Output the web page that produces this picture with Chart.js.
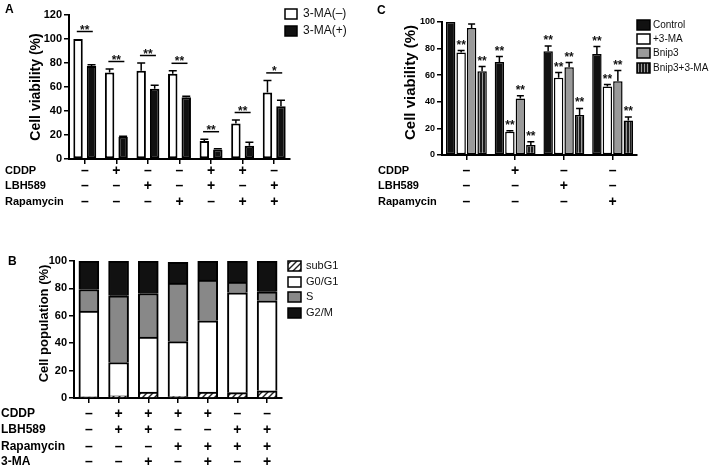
<!DOCTYPE html>
<html>
<head>
<meta charset="utf-8">
<script src="https://cdn.jsdelivr.net/npm/chart.js@4.4.1/dist/chart.umd.min.js"></script>
<style>
  html, body { margin: 0; padding: 0; background: #fff; }
  #wrap { position: relative; width: 709px; height: 468px; overflow: hidden; }
  canvas { position: absolute; }
</style>
</head>
<body>
<div id="wrap">
  <canvas id="chartA" width="372" height="235" style="left:0px;top:0px"></canvas>
  <canvas id="chartC" width="337" height="235" style="left:372px;top:0px"></canvas>
  <canvas id="chartB" width="390" height="228" style="left:0px;top:240px"></canvas>
</div>
<script>
// ---- Panel A: cell viability, 3-MA(-) vs 3-MA(+)
const condA = ['ctrl', 'CDDP', 'LBH589', 'Rapa', 'CDDP+LBH', 'CDDP+Rapa', 'LBH+Rapa'];
const minusMA = [100, 72, 73.5, 71, 15, 29.5, 55.5];
const minusMAErr = [0, 3, 6.5, 2.5, 1.5, 3, 10];
const plusMA = [77.5, 18.5, 58.5, 51.5, 8, 11, 44];
const plusMAErr = [1, 0.5, 3, 0.8, 0.5, 3, 5];
const sigA = ['**', '**', '**', '**', '**', '**', '*'];
const cddpA = ['–', '+', '–', '–', '+', '+', '–'];
const lbhA = ['–', '–', '+', '–', '+', '–', '+'];
const rapaA = ['–', '–', '–', '+', '–', '+', '+'];
const yTicksA = [0, 20, 40, 60, 80, 100, 120];

// ---- Panel C: cell viability, Bnip3 / 3-MA
const condC = ['ctrl', 'CDDP', 'LBH589', 'Rapa'];
const ctrlC = [100, 70, 78, 76];
const ctrlCErr = [0, 4, 4, 5.5];
const maC = [77, 17.5, 58, 51.5];
const maCErr = [1.5, 0.8, 4, 1.5];
const bnipC = [95.5, 42.5, 66, 55.5];
const bnipCErr = [3, 2, 3.5, 8];
const bnipMaC = [63, 7.5, 30, 26];
const bnipMaCErr = [3.5, 2.5, 5, 2.5];
const ctrlCSig = ['', '**', '**', '**'];
const maCSig = ['**', '**', '**', '**'];
const bnipCSig = ['', '**', '**', '**'];
const bnipMaCSig = ['**', '**', '**', '**'];
const cddpC = ['–', '+', '–', '–'];
const lbhC = ['–', '–', '+', '–'];
const rapaC = ['–', '–', '–', '+'];
const yTicksC = [0, 20, 40, 60, 80, 100];

// ---- Panel B: cell cycle distribution (stacked %)
const condB = ['ctrl', 'C+L', 'C+L+M', 'C+R', 'C+R+M', 'L+R', 'L+R+M'];
const subG1 = [0.8, 1.5, 4.4, 1, 4.4, 3.9, 5.3];
const g0g1 = [62.6, 24.4, 40.1, 40.2, 52, 72.9, 65.7];
const sPhase = [15.8, 48.7, 31.8, 42.6, 29.6, 7.9, 6.5];
const g2m = [20.8, 25.4, 23.7, 15.2, 14, 15.3, 22.5];
const cddpB = ['–', '+', '+', '+', '+', '–', '–'];
const lbhB = ['–', '+', '+', '–', '–', '+', '+'];
const rapaB = ['–', '–', '–', '+', '+', '+', '+'];
const maB = ['–', '–', '+', '–', '+', '–', '+'];
const yTicksB = [0, 20, 40, 60, 80, 100];

const FONT = '"Liberation Sans", Arial, Helvetica, sans-serif';

function hatchPattern() {
  const c = document.createElement('canvas');
  c.width = 6; c.height = 6;
  const g = c.getContext('2d');
  g.fillStyle = '#fff'; g.fillRect(0, 0, 6, 6);
  g.strokeStyle = '#222'; g.lineWidth = 1.4;
  g.beginPath();
  g.moveTo(0, 6); g.lineTo(6, 0);
  g.moveTo(-3, 3); g.lineTo(3, -3);
  g.moveTo(3, 9); g.lineTo(9, 3);
  g.stroke();
  return g.createPattern(c, 'repeat');
}

function stripePattern() {
  const c = document.createElement('canvas');
  c.width = 3; c.height = 3;
  const g = c.getContext('2d');
  g.fillStyle = '#1c1c1c'; g.fillRect(0, 0, 3, 3);
  g.fillStyle = '#9a9a9a'; g.fillRect(2, 0, 1, 3);
  return g.createPattern(c, 'repeat');
}

// fixed-size axes so the plot area lands where the figure has it
function axes(yW, xH, yTicks, yMax, tickSize) {
  return {
    x: {
      afterFit: s => { s.height = xH; },
      grid: { drawOnChartArea: false, drawTicks: true, tickLength: 5, offset: false, color: '#000', lineWidth: 1.5 },
      border: { color: '#000', width: 2 },
      ticks: { display: false }
    },
    y: {
      min: 0, max: yMax,
      afterFit: s => { s.width = yW; },
      afterBuildTicks: s => { s.ticks = yTicks.map(v => ({ value: v })); },
      grid: { drawOnChartArea: false, drawTicks: true, tickLength: 5, color: '#000', lineWidth: 1.5 },
      border: { color: '#000', width: 2 },
      ticks: { color: '#000', padding: 2, font: { family: FONT, size: tickSize, weight: 'bold' } }
    }
  };
}

function txt(ctx, s, x, y, font, align, base) {
  ctx.font = font;
  ctx.textAlign = align || 'left';
  ctx.textBaseline = base || 'alphabetic';
  ctx.fillText(s, x, y);
}

const figPlugin = {
  id: 'fig',
  afterDatasetsDraw(chart, args, o) {
    const ctx = chart.ctx, ys = chart.scales.y;
    ctx.save();
    ctx.strokeStyle = '#000';
    ctx.fillStyle = '#111';
    ctx.lineWidth = 1.5;
    chart.data.datasets.forEach((ds, di) => {
      const meta = chart.getDatasetMeta(di);
      meta.data.forEach((bar, i) => {
        const e = ds.errors ? ds.errors[i] : 0;
        const top = ys.getPixelForValue(ds.data[i] + e);
        if (e) {
          ctx.beginPath();
          ctx.moveTo(bar.x, bar.y);
          ctx.lineTo(bar.x, top);
          ctx.moveTo(bar.x - o.cap, top);
          ctx.lineTo(bar.x + o.cap, top);
          ctx.stroke();
        }
        if (ds.stars && ds.stars[i]) {
          txt(ctx, ds.stars[i], bar.x, top - 2, 'bold 12px ' + FONT, 'center');
        }
      });
    });
    // paired significance (panel A)
    if (o.pairs) {
      const m0 = chart.getDatasetMeta(0).data, m1 = chart.getDatasetMeta(1).data;
      const d = chart.data.datasets;
      o.pairs.forEach((s, i) => {
        const t0 = ys.getPixelForValue(d[0].data[i] + d[0].errors[i]);
        const t1 = ys.getPixelForValue(d[1].data[i] + d[1].errors[i]);
        const ly = Math.min(t0, t1) - 7.5;
        const cx = (m0[i].x + m1[i].x) / 2;
        ctx.beginPath();
        ctx.moveTo(cx - 8, ly);
        ctx.lineTo(cx + 8, ly);
        ctx.stroke();
        txt(ctx, s, cx, ly + 2, 'bold 12px ' + FONT, 'center');
      });
    }
    ctx.restore();
  },
  afterDraw(chart, args, o) {
    const ctx = chart.ctx, xs = chart.scales.x, ca = chart.chartArea;
    ctx.save();
    ctx.fillStyle = '#000';
    // panel letter
    txt(ctx, o.letter.text, o.letter.x, o.letter.y, 'bold 12px ' + FONT);
    // y axis title
    ctx.save();
    ctx.translate(o.yTitle.x, (ca.top + ca.bottom) / 2 + (o.yTitle.dy || 0));
    ctx.rotate(-Math.PI / 2);
    txt(ctx, o.yTitle.text, 0, 0, 'bold ' + o.yTitle.size + 'px ' + FONT, 'center', 'middle');
    ctx.restore();
    // treatment table
    const r = o.rows;
    r.labels.forEach((lab, k) => {
      txt(ctx, lab, r.labelX, r.ys[k], 'bold ' + r.labelSize + 'px ' + FONT, 'left', 'middle');
      r.signs[k].forEach((s, i) => {
        txt(ctx, s, xs.getPixelForValue(i), r.ys[k], 'bold ' + r.signSize + 'px ' + FONT, 'center', 'middle');
      });
    });
    // legend
    const L = o.legend;
    chart.data.datasets.forEach((d, i) => {
      const y = L.ys[i];
      ctx.fillStyle = d.backgroundColor;
      ctx.fillRect(L.x, y - L.box[1] / 2, L.box[0], L.box[1]);
      ctx.strokeStyle = '#000';
      ctx.lineWidth = 1.5;
      ctx.strokeRect(L.x, y - L.box[1] / 2, L.box[0], L.box[1]);
      ctx.fillStyle = '#111';
      txt(ctx, d.label, L.textX, y, L.size + 'px ' + FONT, 'left', 'middle');
    });
    ctx.restore();
  }
};

const base = {
  responsive: false,
  animation: false,
  devicePixelRatio: 1,
  events: []
};

// Panel A
new Chart(document.getElementById('chartA'), {
  type: 'bar',
  data: {
    labels: condA,
    datasets: [
      { label: '3-MA(–)', data: minusMA, errors: minusMAErr, backgroundColor: '#fff' },
      { label: '3-MA(+)', data: plusMA, errors: plusMAErr, backgroundColor: '#111' }
    ]
  },
  options: Object.assign({}, base, {
    layout: { padding: { left: 0, top: 15, right: 82, bottom: 0 } },
    datasets: { bar: { borderColor: '#000', borderWidth: 2, borderSkipped: false, categoryPercentage: 0.855, barPercentage: 0.7 } },
    scales: axes(69, 76, yTicksA, 120, 11),
    plugins: {
      legend: { display: false },
      tooltip: { enabled: false },
      fig: {
        cap: 4,
        pairs: sigA,
        letter: { text: 'A', x: 5, y: 13 },
        yTitle: { text: 'Cell viability (%)', x: 36, size: 14 },
        rows: { labelX: 5, ys: [171, 186, 202], labels: ['CDDP', 'LBH589', 'Rapamycin'], signs: [cddpA, lbhA, rapaA], labelSize: 11, signSize: 14 },
        legend: { x: 285, ys: [14, 31], box: [12, 10], textX: 303, size: 12 }
      }
    }
  }),
  plugins: [figPlugin]
});

// Panel C
const stripes = stripePattern();
new Chart(document.getElementById('chartC'), {
  type: 'bar',
  data: {
    labels: condC,
    datasets: [
      { label: 'Control', data: ctrlC, errors: ctrlCErr, stars: ctrlCSig, backgroundColor: '#111' },
      { label: '+3-MA', data: maC, errors: maCErr, stars: maCSig, backgroundColor: '#fff' },
      { label: 'Bnip3', data: bnipC, errors: bnipCErr, stars: bnipCSig, backgroundColor: '#9a9a9a' },
      { label: 'Bnip3+3-MA', data: bnipMaC, errors: bnipMaCErr, stars: bnipMaCSig, backgroundColor: stripes }
    ]
  },
  options: Object.assign({}, base, {
    layout: { padding: { left: 0, top: 22, right: 72, bottom: 0 } },
    datasets: { bar: { borderColor: '#000', borderWidth: 1.5, borderSkipped: false, categoryPercentage: 0.86, barPercentage: 0.9 } },
    scales: axes(70, 80, yTicksC, 100, 9),
    plugins: {
      legend: { display: false },
      tooltip: { enabled: false },
      fig: {
        cap: 3.5,
        letter: { text: 'C', x: 5, y: 14 },
        yTitle: { text: 'Cell viability (%)', x: 39, size: 15, dy: -6 },
        rows: { labelX: 6, ys: [171, 186, 202], labels: ['CDDP', 'LBH589', 'Rapamycin'], signs: [cddpC, lbhC, rapaC], labelSize: 11, signSize: 14 },
        legend: { x: 265, ys: [25, 39, 53, 68], box: [13, 10], textX: 281, size: 10 }
      }
    }
  }),
  plugins: [figPlugin]
});

// Panel B
const hatch = hatchPattern();
new Chart(document.getElementById('chartB'), {
  type: 'bar',
  data: {
    labels: condB,
    datasets: [
      { label: 'subG1', data: subG1, backgroundColor: hatch },
      { label: 'G0/G1', data: g0g1, backgroundColor: '#fff' },
      { label: 'S', data: sPhase, backgroundColor: '#888' },
      { label: 'G2/M', data: g2m, backgroundColor: '#111' }
    ]
  },
  options: Object.assign({}, base, {
    layout: { padding: { left: 0, top: 21, right: 108, bottom: 0 } },
    datasets: { bar: { borderColor: '#000', borderWidth: 2, barThickness: 20 } },
    scales: (() => {
      const s = axes(74, 70, yTicksB, 100, 11);
      s.x.stacked = true;
      s.y.stacked = true;
      return s;
    })(),
    plugins: {
      legend: { display: false },
      tooltip: { enabled: false },
      fig: {
        cap: 4,
        letter: { text: 'B', x: 8, y: 25 },
        yTitle: { text: 'Cell population (%)', x: 44, size: 13, dy: -6 },
        rows: { labelX: 1, ys: [174, 190, 207, 222], labels: ['CDDP', 'LBH589', 'Rapamycin', '3-MA'], signs: [cddpB, lbhB, rapaB, maB], labelSize: 12, signSize: 14 },
        legend: { x: 288, ys: [26, 42, 57, 73], box: [13, 10], textX: 306, size: 11 }
      }
    }
  }),
  plugins: [figPlugin]
});
</script>
</body>
</html>
